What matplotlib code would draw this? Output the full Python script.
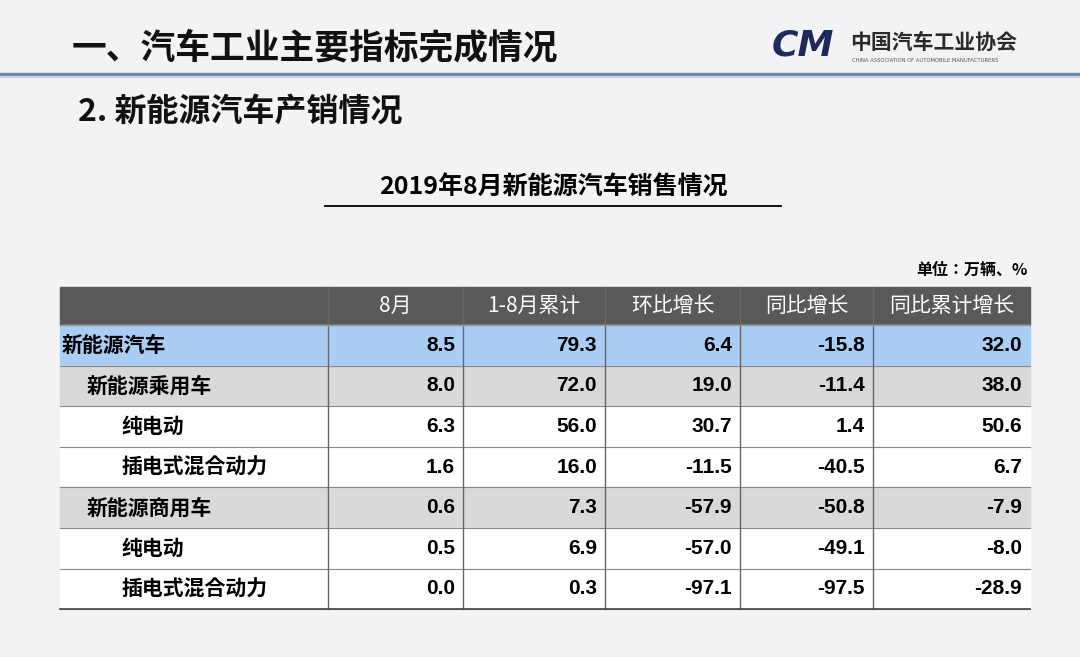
import matplotlib
matplotlib.use("Agg")
import matplotlib.pyplot as plt
from matplotlib import font_manager
from matplotlib.patches import Rectangle

_names = {f.name for f in font_manager.fontManager.ttflist}
CJK = [n for n in ["Noto Sans CJK SC", "Noto Sans CJK JP", "Noto Sans CJK TC",
                   "Noto Sans CJK KR", "Noto Sans SC"] if n in _names]
plt.rcParams["font.family"] = "sans-serif"
plt.rcParams["font.sans-serif"] = CJK + ["DejaVu Sans"]

# ── data ──────────────────────────────────────────────────────────────────────
COLUMNS    = ["8月", "1-8月累计", "环比增长", "同比增长", "同比累计增长"]
CATEGORIES = ["新能源汽车", "新能源乘用车", "纯电动", "插电式混合动力",
              "新能源商用车", "纯电动", "插电式混合动力"]
INDENT     = [0, 1, 2, 2, 1, 2, 2]
AUG        = [8.5, 8.0, 6.3, 1.6, 0.6, 0.5, 0.0]
YTD        = [79.3, 72.0, 56.0, 16.0, 7.3, 6.9, 0.3]
MOM        = [6.4, 19.0, 30.7, -11.5, -57.9, -57.0, -97.1]
YOY        = [-15.8, -11.4, 1.4, -40.5, -50.8, -49.1, -97.5]
YOY_CUM    = [32.0, 38.0, 50.6, 6.7, -7.9, -8.0, -28.9]

# ── layout ────────────────────────────────────────────────────────────────────
W, H = 1080, 657
COL_X = [60, 328, 463, 605, 740, 873, 1030]
HEAD_TOP, HEAD_BOT = 287, 325
ROW_H = 40.6
ROW_COLORS = ["#a9cdf3", "#d9d9d9", "white", "white", "#d9d9d9", "white", "white"]

fig = plt.figure(figsize=(W / 100, H / 100), dpi=100)
fig.patch.set_facecolor("#f3f3f5")
ax = fig.add_axes([0, 0, 1, 1])
ax.set_xlim(0, W)
ax.set_ylim(H, 0)
ax.axis("off")

# slide header
ax.text(72, 48, "一、汽车工业主要指标完成情况", fontsize=25, fontweight="bold",
        va="center", color="#111111")
ax.plot([0, W], [74, 74], color="#6d85b0", lw=2.5)
ax.plot([0, W], [77, 77], color="#c8d2e4", lw=1.5)
ax.text(78, 112, "2. 新能源汽车产销情况", fontsize=23, fontweight="bold",
        va="center", color="#111111")

# logo
ax.text(772, 46, "CM", fontsize=26, fontweight="bold", fontstyle="italic",
        color="#1d2a5c", va="center", family="DejaVu Sans")
ax.text(850, 42, "中国汽车工业协会", fontsize=15, fontweight="bold",
        color="#2a2a2a", va="center")
ax.text(852, 60, "CHINA ASSOCIATION OF AUTOMOBILE MANUFACTURERS", fontsize=3.8,
        color="#555555", va="center", family="DejaVu Sans")

# table title
ax.text(553, 188, "2019年8月新能源汽车销售情况", fontsize=18, fontweight="bold",
        ha="center", va="center")
ax.plot([325, 781], [206, 206], color="black", lw=1.3)
ax.text(1028, 270, "单位：万辆、%", fontsize=11.5, fontweight="bold",
        ha="right", va="center")

# header row
ax.add_patch(Rectangle((COL_X[0], HEAD_TOP), COL_X[-1] - COL_X[0],
                       HEAD_BOT - HEAD_TOP, color="#595959"))
for j, name in enumerate(COLUMNS):
    xc = (COL_X[j + 1] + COL_X[j + 2]) / 2
    ax.text(xc, (HEAD_TOP + HEAD_BOT) / 2, name, fontsize=15, color="white",
            ha="center", va="center")

# body rows
values = [AUG, YTD, MOM, YOY, YOY_CUM]
for i, cat in enumerate(CATEGORIES):
    top = HEAD_BOT + i * ROW_H
    ax.add_patch(Rectangle((COL_X[0], top), COL_X[-1] - COL_X[0], ROW_H,
                           color=ROW_COLORS[i]))
    yc = top + ROW_H / 2
    ax.text(COL_X[0] + 2 + INDENT[i] * 25 + (10 if INDENT[i] == 2 else 0), yc,
            cat, fontsize=15, fontweight="bold", va="center")
    for j, col in enumerate(values):
        ax.text(COL_X[j + 2] - 8, yc, f"{col[i]:.1f}", fontsize=15,
                fontweight="bold", ha="right", va="center", family="Liberation Sans")
    ax.plot([COL_X[0], COL_X[-1]], [top + ROW_H, top + ROW_H],
            color="#888888", lw=0.8)

bottom = HEAD_BOT + len(CATEGORIES) * ROW_H
for x in COL_X[1:-1]:
    ax.plot([x, x], [HEAD_TOP, bottom], color="#666666", lw=1)
ax.plot([COL_X[0], COL_X[-1]], [HEAD_BOT, HEAD_BOT], color="#999999", lw=1)
ax.plot([COL_X[0], COL_X[-1]], [bottom, bottom], color="#444444", lw=1.2)

fig.savefig("out.png", dpi=100, facecolor=fig.get_facecolor())
